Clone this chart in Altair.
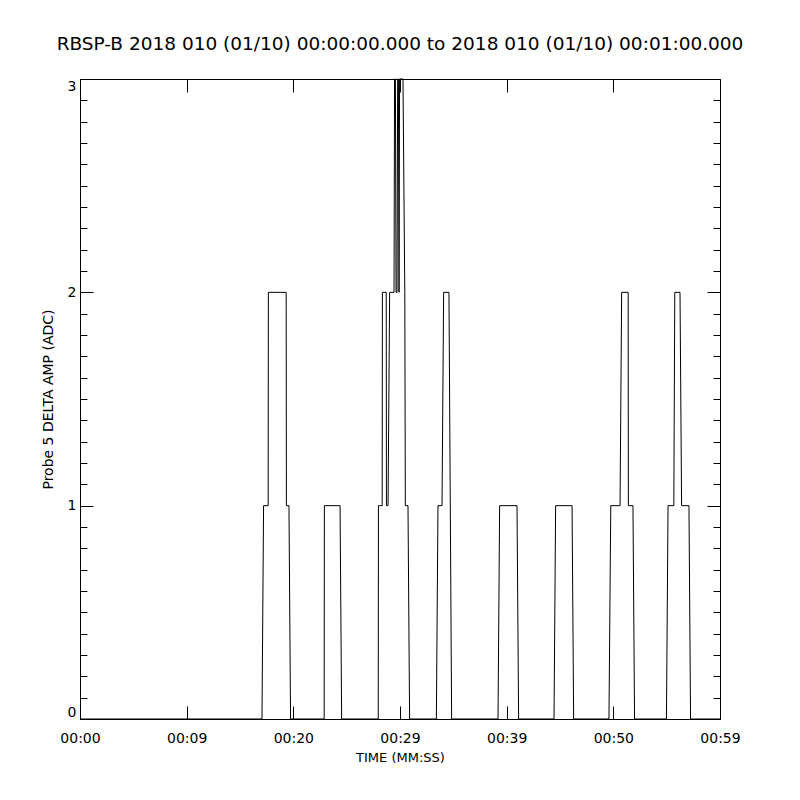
import json
import altair as alt
import pandas as pd

# ---- data (time in seconds, amplitude in ADC) ----
times = [0, 17.06, 17.21, 17.64, 17.66, 19.33, 19.35, 19.59, 19.74,
         22.89, 22.91, 24.38, 24.53,
         27.96, 27.98, 28.33, 28.35, 28.71, 28.73, 28.88, 29.03, 29.44, 29.49,
         29.57, 29.63, 29.72, 29.78, 29.85, 29.91, 29.96, 30.28, 30.45, 30.50,
         30.75, 30.90,
         33.41, 33.56, 33.94, 34.09, 34.59, 34.84,
         39.19, 39.34, 40.97, 41.12,
         44.44, 44.59, 46.13, 46.28,
         49.59, 49.76, 50.63, 50.78, 51.39, 51.41, 51.84, 51.99,
         54.98, 55.13, 55.67, 55.76, 56.25, 56.40, 57.09, 57.24,
         60]
values = [0, 0, 1, 1, 2, 2, 1, 1, 0,
          0, 1, 1, 0,
          0, 1, 1, 2, 2, 1, 1, 2, 2, 3,
          3, 2, 2, 3, 3, 2, 3, 3, 2, 1,
          1, 0,
          0, 1, 1, 2, 2, 0,
          0, 1, 1, 0,
          0, 1, 1, 0,
          0, 1, 1, 2, 2, 1, 1, 0,
          0, 1, 1, 2, 2, 1, 1, 0,
          0]

x_tick_values = [0, 10, 20, 30, 40, 50, 60]
x_tick_labels = ["00:00", "00:09", "00:20", "00:29", "00:39", "00:50", "00:59"]
y_tick_values = [0, 1, 2, 3]
y_minor_values = [0.1, 0.2, 0.3, 0.4, 0.5, 0.6, 0.7, 0.8, 0.9,
                  1.1, 1.2, 1.3, 1.4, 1.5, 1.6, 1.7, 1.8, 1.9,
                  2.1, 2.2, 2.3, 2.4, 2.5, 2.6, 2.7, 2.8, 2.9]

title_text = "RBSP-B 2018 010 (01/10) 00:00:00.000 to 2018 010 (01/10) 00:01:00.000"
x_title = "TIME (MM:SS)"
y_title = "Probe 5 DELTA AMP (ADC)"

df = pd.DataFrame({"t": times, "v": values})

W = 640
H = 640
FONT = "DejaVu Sans"
MAJOR = 13
MINOR = 7

xscale = alt.Scale(domain=[0, 60], nice=False, zero=False)
yscale = alt.Scale(domain=[0, 3], nice=False, zero=False)

label_expr = json.dumps(x_tick_labels) + "[round(datum.value / 10)]"


def tick_axis(orient, vals, size):
    return alt.Axis(orient=orient, offset=-W, values=vals, labels=False,
                    domain=False, grid=False, ticks=True, tickSize=size,
                    tickColor="black", tickWidth=1, title="")


base = alt.Chart(df)

line = base.mark_line(color="black", strokeWidth=1).encode(
    x=alt.X("t:Q", scale=xscale, axis=alt.Axis(
        orient="bottom", values=x_tick_values, labelExpr=label_expr,
        ticks=False, tickSize=0, domain=False, grid=False,
        labelPadding=12, labelBaseline="top", labelFlush=False,
        labelFont=FONT, labelFontSize=14, labelColor="black",
        title=x_title, titleFont=FONT, titleFontSize=13,
        titleFontWeight="normal", titleColor="black", titlePadding=6)),
    y=alt.Y("v:Q", scale=yscale, axis=alt.Axis(
        orient="left", values=y_tick_values, format="d",
        ticks=False, tickSize=0, domain=False, grid=False,
        labelPadding=4, labelFlush=True,
        labelFont=FONT, labelFontSize=14, labelColor="black",
        title=y_title, titleFont=FONT, titleFontSize=14,
        titleFontWeight="normal", titleColor="black", titlePadding=12)),
)

ghost = base.mark_line(strokeOpacity=0)

ticks_a = ghost.encode(
    x=alt.X("t:Q", scale=xscale, axis=tick_axis("top", x_tick_values, MAJOR)),
    y=alt.Y("v:Q", scale=yscale, axis=tick_axis("right", y_tick_values, MAJOR)),
)
ticks_b = ghost.encode(
    x=alt.X("t:Q", scale=xscale, axis=tick_axis("bottom", x_tick_values, MAJOR)),
    y=alt.Y("v:Q", scale=yscale, axis=tick_axis("left", y_tick_values, MAJOR)),
)
ticks_c = ghost.encode(
    x=alt.X("t:Q", scale=xscale, axis=None),
    y=alt.Y("v:Q", scale=yscale, axis=tick_axis("right", y_minor_values, MINOR)),
)
ticks_d = ghost.encode(
    x=alt.X("t:Q", scale=xscale, axis=None),
    y=alt.Y("v:Q", scale=yscale, axis=tick_axis("left", y_minor_values, MINOR)),
)

chart = (
    alt.layer(line, ticks_a, ticks_b, ticks_c, ticks_d)
    .resolve_axis(x="independent", y="independent")
    .properties(
        width=W, height=H,
        autosize=alt.AutoSizeParams(type="none"),
        padding={"left": 72, "top": 71, "right": 72, "bottom": 65},
        background="white",
        title=alt.TitleParams(text=title_text, font=FONT, fontSize=18.5,
                              fontWeight="normal", color="black",
                              anchor="middle", baseline="alphabetic", offset=9),
    )
    .configure_view(stroke="black", strokeWidth=1)
)

chart.save("out.html", embed_options={"renderer": "svg", "actions": False})
